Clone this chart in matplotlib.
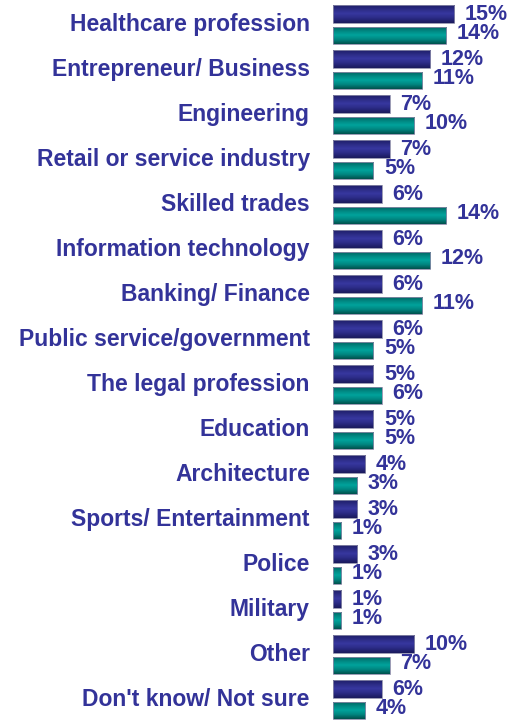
import numpy as np
import matplotlib
matplotlib.use("Agg")
import matplotlib.pyplot as plt
from matplotlib.colors import LinearSegmentedColormap
from matplotlib.patches import Rectangle

categories = [
    "Healthcare profession", "Entrepreneur/ Business", "Engineering",
    "Retail or service industry", "Skilled trades", "Information technology",
    "Banking/ Finance", "Public service/government", "The legal profession",
    "Education", "Architecture", "Sports/ Entertainment", "Police",
    "Military", "Other", "Don't know/ Not sure",
]
series_a = [15, 12, 7, 7, 6, 6, 6, 6, 5, 5, 4, 3, 3, 1, 10, 6]
series_b = [14, 11, 10, 5, 14, 12, 11, 5, 6, 5, 3, 1, 1, 1, 7, 4]

TEXT = "#333399"
navy_cmap = LinearSegmentedColormap.from_list(
    "navy", ["#1c1c62", "#2a2a82", "#3838a0", "#2a2a84", "#1a1a5c"])
teal_cmap = LinearSegmentedColormap.from_list(
    "teal", ["#005c58", "#008580", "#00a39c", "#008580", "#00504c"])

fig = plt.figure(figsize=(5.14, 7.21), dpi=100)
ax = fig.add_axes([0, 0, 1, 1])
ax.set_xlim(-41.1, 22.35)
ax.set_ylim(15.477, -0.545)
ax.axis("off")

grad = np.linspace(0, 1, 64).reshape(-1, 1)


def shaded_bar(x, y, h, cmap):
    rect = Rectangle((0, y - h / 2), x, h, facecolor="none",
                     edgecolor="#8a8aa8", linewidth=0.6, zorder=3)
    ax.add_patch(rect)
    im = ax.imshow(grad, cmap=cmap, aspect="auto",
                   extent=(0, x, y + h / 2, y - h / 2), zorder=2,
                   interpolation="bilinear")
    im.set_clip_path(rect)


off_a, off_b = -0.245, 0.235
h_a, h_b = 0.40, 0.38
for i, (cat, a, b) in enumerate(zip(categories, series_a, series_b)):
    shaded_bar(a, i + off_a, h_a, navy_cmap)
    shaded_bar(b, i + off_b, h_b, teal_cmap)
    ax.text(-2.85, i, cat, ha="right", va="center", fontsize=16.5,
            fontweight="bold", color=TEXT, family="Liberation Sans")
    for v, off, dy in ((a, off_a, 0.02), (b, off_b, -0.03)):
        ax.text(v + 1.3, i + off + dy, f"{v}%", ha="left",
                va="center", fontsize=15.5, fontweight="bold",
                color=TEXT, family="Liberation Sans")

fig.savefig("out.png", dpi=100)
